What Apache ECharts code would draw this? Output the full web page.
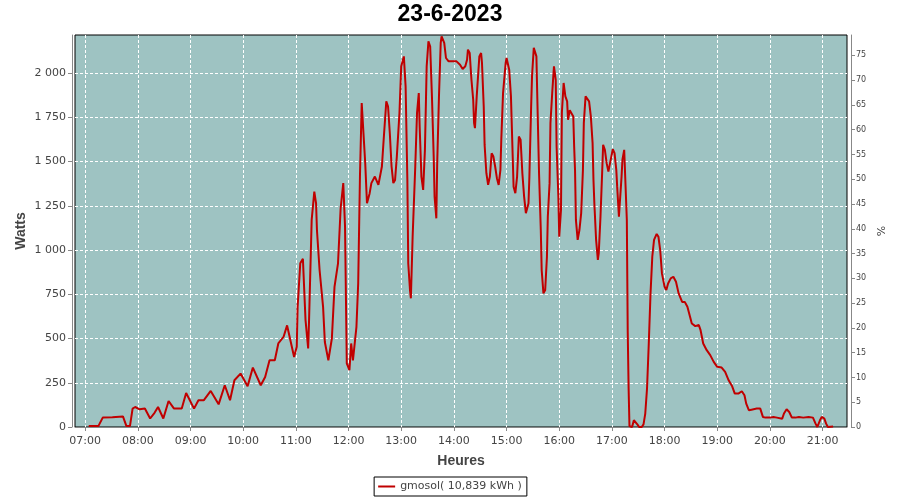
<!DOCTYPE html>
<html>
<head>
<meta charset="utf-8">
<script src="https://cdn.jsdelivr.net/npm/echarts@6/dist/echarts.min.js"></script>
<style>html,body{margin:0;padding:0;background:#fff}#c{width:900px;height:500px}</style>
</head>
<body>
<div id="c"></div>
<script>
const title = '23-6-2023';
const seriesName = 'gmosol( 10,839 kWh )';
const xTickLabels = ['07:00','08:00','09:00','10:00','11:00','12:00','13:00','14:00','15:00','16:00','17:00','18:00','19:00','20:00','21:00'];
const wattTicks = [0, 250, 500, 750, 1000, 1250, 1500, 1750, 2000];
const pctTicks = [0, 5, 10, 15, 20, 25, 30, 35, 40, 45, 50, 55, 60, 65, 70, 75];
const times = ['07:04','07:15','07:20','07:31','07:43','07:45','07:47','07:51','07:54','07:57','08:02','08:08','08:10','08:14','08:19','08:23','08:29','08:35','08:41','08:50','08:55','09:04','09:09','09:15','09:23','09:32','09:39','09:45','09:50','09:57','10:05','10:11','10:20','10:25','10:30','10:36','10:40','10:46','10:50','10:58','11:01','11:02','11:05','11:08','11:11','11:14','11:15','11:18','11:21','11:23','11:24','11:27','11:31','11:33','11:37','11:41','11:44','11:48','11:51','11:54','11:56','11:58','12:01','12:03','12:05','12:09','12:11','12:13','12:15','12:17','12:19','12:21','12:24','12:26','12:30','12:34','12:38','12:40','12:43','12:45','12:47','12:49','12:51','12:53','12:55','12:58','13:00','13:03','13:05','13:07','13:08','13:10','13:11','13:13','13:16','13:18','13:20','13:21','13:23','13:25','13:27','13:29','13:31','13:33','13:35','13:37','13:38','13:40','13:41','13:43','13:45','13:46','13:49','13:51','13:54','13:58','14:03','14:07','14:10','14:13','14:15','14:16','14:18','14:20','14:22','14:23','14:24','14:26','14:29','14:31','14:32','14:34','14:35','14:37','14:39','14:41','14:43','14:45','14:47','14:49','14:51','14:53','14:54','14:56','14:59','15:00','15:03','15:05','15:07','15:08','15:10','15:12','15:14','15:16','15:18','15:20','15:22','15:25','15:26','15:28','15:29','15:31','15:34','15:35','15:37','15:39','15:40','15:42','15:44','15:46','15:47','15:49','15:50','15:52','15:54','15:56','15:57','15:59','16:00','16:02','16:03','16:05','16:07','16:09','16:10','16:12','16:14','16:16','16:17','16:18','16:19','16:21','16:23','16:25','16:27','16:28','16:30','16:32','16:34','16:36','16:38','16:39','16:40','16:42','16:44','16:45','16:47','16:49','16:50','16:52','16:54','16:56','16:59','17:01','17:03','17:05','17:06','17:08','17:09','17:11','17:12','17:14','17:15','17:17','17:18','17:19','17:20','17:23','17:25','17:27','17:29','17:31','17:34','17:36','17:38','17:40','17:42','17:44','17:46','17:48','17:51','17:53','17:55','17:57','18:00','18:02','18:04','18:07','18:10','18:13','18:16','18:20','18:23','18:26','18:29','18:31','18:35','18:39','18:41','18:44','18:48','18:52','18:56','19:00','19:05','19:09','19:13','19:17','19:20','19:24','19:28','19:31','19:33','19:36','19:39','19:45','19:49','19:52','19:55','20:00','20:04','20:08','20:14','20:16','20:19','20:22','20:25','20:29','20:33','20:38','20:44','20:49','20:52','20:54','20:57','20:59','21:02','21:04','21:06','21:12'];
const watts = [5,5,53,55,60,53,5,5,104,113,100,105,110,48,80,113,48,147,105,105,192,104,151,151,204,128,236,151,264,302,230,336,236,283,377,377,472,510,574,396,453,679,925,951,604,444,600,1170,1330,1264,1113,887,679,480,377,500,792,925,1236,1378,1132,359,321,472,377,566,812,1415,1830,1660,1491,1264,1320,1378,1415,1368,1472,1623,1840,1811,1661,1472,1378,1396,1528,1774,2038,2094,1925,1396,925,774,727,1075,1472,1774,1887,1698,1415,1340,1566,2038,2179,2150,1868,1528,1302,1179,1491,1868,2170,2207,2170,2085,2066,2066,2066,2047,2023,2038,2075,2132,2113,1962,1849,1717,1689,1868,2094,2113,2057,1811,1594,1434,1368,1415,1547,1528,1472,1406,1368,1453,1623,1887,2057,2085,2019,1868,1528,1358,1321,1415,1641,1623,1434,1302,1208,1264,1415,1811,1981,2142,2094,1868,1434,1113,887,755,774,962,1189,1378,1717,1887,2038,1962,1585,1302,1075,1226,1774,1944,1868,1840,1736,1790,1800,1755,1585,1450,1170,1057,1113,1208,1453,1717,1868,1868,1840,1755,1604,1396,1264,1057,944,981,1189,1453,1594,1566,1491,1443,1519,1570,1547,1453,1358,1189,1264,1415,1510,1566,1434,1170,547,226,5,0,38,44,15,0,0,15,76,217,472,755,962,1057,1091,1075,1000,868,792,774,811,840,849,821,755,707,707,679,623,585,570,576,547,472,434,406,368,340,336,311,264,230,189,189,202,179,132,95,98,104,104,57,53,53,57,53,47,76,100,85,53,53,57,53,57,53,19,0,38,57,47,19,0,3];

const toMin = s => { const p = s.split(':'); return (+p[0]) * 60 + (+p[1]); };
const fmtMin = v => { const h = Math.floor(v / 60), m = Math.round(v - h * 60); return String(h).padStart(2, '0') + ':' + String(m).padStart(2, '0'); };
const fmtWatt = v => v >= 1000 ? Math.floor(v / 1000) + ' ' + String(v % 1000).padStart(3, '0') : String(v);
const data = times.map((t, i) => [toMin(t), watts[i]]);
const xTicks = xTickLabels.map(toMin);
const leftMax = 2215;
const pctScale = 28;

const fontTick = 'DejaVu Sans';
const fontName = 'Liberation Sans';
const gridLine = {show: true, lineStyle: {color: '#fff', width: 1, type: [3, 2]}};
const chart = echarts.init(document.getElementById('c'), null, {renderer: 'canvas'});
chart.setOption({
  animation: false,
  backgroundColor: '#ffffff',
  title: {
    text: title, left: 'center', top: 3, padding: 0,
    textStyle: {fontFamily: fontName, fontWeight: 'bold', fontSize: 23, color: '#000'}
  },
  legend: {
    data: [seriesName], left: 'center', top: 477,
    icon: 'rect', itemWidth: 17, itemHeight: 2, itemGap: 5,
    padding: [4, 5, 4, 4], borderColor: '#000', borderWidth: 1, borderRadius: 0,
    textStyle: {fontFamily: fontTick, fontSize: 11, color: '#444'}
  },
  grid: {
    left: 75, right: 53, top: 35, bottom: 73, show: true,
    backgroundColor: '#9ec3c2', borderColor: '#000', borderWidth: 1
  },
  xAxis: {
    type: 'value', min: 408.4, max: 1287.8, offset: 4,
    name: 'Heures', nameLocation: 'middle', nameGap: 23,
    nameTextStyle: {fontFamily: fontName, fontWeight: 'bold', fontSize: 14, color: '#444'},
    axisLine: {show: true, lineStyle: {color: '#888', width: 1}},
    axisTick: {show: true, customValues: xTicks, length: 4, lineStyle: {color: '#888'}},
    axisLabel: {customValues: xTicks, formatter: fmtMin, fontFamily: fontTick, fontSize: 11, color: '#444', margin: 5},
    splitLine: gridLine
  },
  yAxis: [{
    type: 'value', min: 0, max: leftMax, offset: 3, position: 'left',
    name: 'Watts', nameLocation: 'middle', nameGap: 44, nameRotate: 90, nameMoveOverlap: false,
    nameTextStyle: {fontFamily: fontName, fontWeight: 'bold', fontSize: 14, color: '#444'},
    axisLine: {show: true, lineStyle: {color: '#888', width: 1}},
    axisTick: {show: true, customValues: wattTicks, length: 4, lineStyle: {color: '#888'}},
    axisLabel: {customValues: wattTicks, formatter: fmtWatt, fontFamily: fontTick, fontSize: 11, color: '#444', margin: 6},
    splitLine: gridLine
  }, {
    type: 'value', min: 0, max: leftMax / pctScale, offset: 4, position: 'right',
    name: '%', nameLocation: 'middle', nameGap: 25, nameRotate: 90,
    nameTextStyle: {fontFamily: fontTick, fontSize: 11, color: '#444'},
    axisLine: {show: true, lineStyle: {color: '#888', width: 1}},
    axisTick: {show: true, customValues: pctTicks, length: 4, lineStyle: {color: '#888'}},
    axisLabel: {customValues: pctTicks, formatter: v => String(v), fontFamily: fontTick, fontSize: 8, color: '#444', margin: 5},
    splitLine: {show: false}
  }],
  series: [{
    name: seriesName, type: 'line', data: data, yAxisIndex: 0,
    showSymbol: false, symbol: 'none',
    itemStyle: {color: '#c00000'},
    lineStyle: {color: '#c00000', width: 2}
  }]
});
</script>
</body>
</html>
